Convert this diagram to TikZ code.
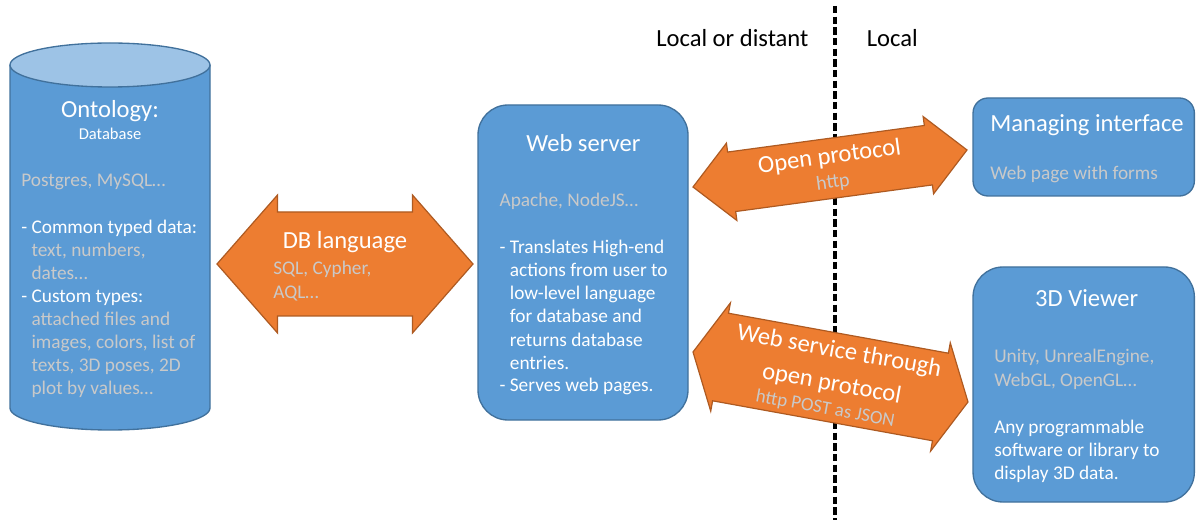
\documentclass[tikz,border=0pt]{standalone}
\usepackage{fontspec}
\setmainfont{Carlito}
\definecolor{boxblue}{HTML}{5B9BD5}
\definecolor{boxedge}{HTML}{41719C}
\definecolor{toplight}{HTML}{9DC3E6}
\definecolor{arrfill}{HTML}{ED7D31}
\definecolor{arredge}{HTML}{AE5A21}
\definecolor{softgray}{HTML}{C9C9C9}
\newcommand\blockarrow[4]{% L, h, H, S
  \path[arrowshape] ({-#1/2},0) -- ({-#1/2+#2},{-#3}) -- ({-#1/2+#2},{-#4}) -- ({#1/2-#2},{-#4})
    -- ({#1/2-#2},{-#3}) -- ({#1/2},0) -- ({#1/2-#2},{#3}) -- ({#1/2-#2},{#4})
    -- ({-#1/2+#2},{#4}) -- ({-#1/2+#2},{#3}) -- cycle;}
\begin{document}
\begin{tikzpicture}[x=0.75pt,y=-0.75pt,
  box/.style={draw=boxedge,fill=boxblue,line width=1pt},
  arrowshape/.style={draw=arredge,fill=arrfill,line width=0.9pt},
  ttl/.style={text=white,font=\fontsize{18.45pt}{22pt}\selectfont,inner sep=0pt},
  bw/.style={text=white,font=\fontsize{14.5pt}{17.25pt}\selectfont,inner sep=0pt,anchor=base west},
  bg/.style={text=softgray,font=\fontsize{14.5pt}{17.25pt}\selectfont,inner sep=0pt,anchor=base west},
  hdr/.style={text=black,font=\fontsize{18.45pt}{22pt}\selectfont,inner sep=0pt,anchor=base west},
  divider/.style={line width=2.4pt,dash pattern=on 5.5pt off 2.5pt}]
\useasboundingbox (0,0) rectangle (1196,520);

% divider
\coordinate (divtop) at (835,6);
\coordinate (divbot) at (835,520);
\draw[divider] (divtop) -- (divbot);
\node[hdr] (lod) at (656,46.7) {Local or distant};
\node[hdr] (loc) at (866.5,46.7) {Local};

% database cylinder
\path[fill=boxblue] (10,65) -- (10,408) arc[start angle=180,end angle=360,x radius=75pt,y radius=16.5pt] -- (210,65) -- cycle;
\draw[draw=boxedge,line width=1pt] (10,65) -- (10,408) arc[start angle=180,end angle=360,x radius=75pt,y radius=16.5pt] -- (210,65);
\draw[draw=boxedge,fill=toplight,line width=1pt] (110,65) ellipse[x radius=75pt,y radius=16.5pt];
\coordinate (db) at (110,250);
\node[ttl,anchor=base] (dbt) at (110,117.3) {Ontology:};
\node[text=white,font=\fontsize{12.4pt}{15pt}\selectfont,inner sep=0pt,anchor=base] (dbs) at (110,140) {Database};
\node[bg] (db1) at (21,186.7) {Postgres, MySQL…};
\node[bw] (db2) at (21,233.3) {- Common typed data:};
\node[bg] (db3) at (31.3,256.3) {text, numbers,};
\node[bg] (db4) at (31.3,279.3) {dates…};
\node[bw] (db5) at (21,302.3) {- Custom types:};
\node[bg] (db6) at (31.3,325.3) {attached files and};
\node[bg] (db7) at (31.3,348.3) {images, colors, list of};
\node[bg] (db8) at (31.3,371.3) {texts, 3D poses, 2D};
\node[bg] (db9) at (31.3,394.3) {plot by values…};

% web server
\node[box,rounded corners=22.5pt,minimum width=157.5pt,minimum height=236.25pt,inner sep=0pt] (ws) at (583,262.5) {};
\node[ttl,anchor=base] (wst) at (583.3,151.7) {Web server};
\node[bg] (ws1) at (499.3,206.7) {Apache, NodeJS…};
\node[bw] (ws2) at (499.3,254) {- Translates High-end};
\node[bw] (ws3) at (509.6,277) {actions from user to};
\node[bw] (ws4) at (509.6,300) {low-level language};
\node[bw] (ws5) at (509.6,323) {for database and};
\node[bw] (ws6) at (509.6,346) {returns database};
\node[bw] (ws7) at (509.6,369) {entries.};
\node[bw] (ws8) at (499.3,392) {- Serves web pages.};

% managing interface
\node[box,rounded corners=11.25pt,minimum width=166pt,minimum height=73.5pt,inner sep=0pt] (mi) at (1083.7,147) {};
\node[ttl,anchor=base west] (mit) at (990,132) {Managing interface};
\node[bg] (mi1) at (990,180) {Web page with forms};

% 3D viewer
\node[box,rounded corners=22.5pt,minimum width=166pt,minimum height=176.25pt,inner sep=0pt] (vw) at (1083.7,384.5) {};
\node[ttl,anchor=base] (vwt) at (1086.7,307) {3D Viewer};
\node[bg] (vw1) at (994,363) {Unity, UnrealEngine,};
\node[bg] (vw2) at (994,386) {WebGL, OpenGL…};
\node[bw] (vw3) at (994,433) {Any programmable};
\node[bw] (vw4) at (994,456) {software or library to};
\node[bw] (vw5) at (994,479) {display 3D data.};

% DB language arrow
\begin{scope}[shift={(345,264)},transform shape]
  \blockarrow{256}{60.5}{69}{52}
  \node[ttl,anchor=base] (dbl) at (0,-15.7) {DB language};
  \node[bg] (dbl1) at (-72,11) {SQL, Cypher,};
  \node[bg] (dbl2) at (-72,34.3) {AQL…};
\end{scope}

% Open protocol arrow
\begin{scope}[shift={(830,168.5)},rotate=7.7,transform shape]
  \blockarrow{276.5}{39}{39}{30}
  \node[ttl,anchor=base] (op) at (1,-4.5) {Open protocol};
  \node[text=softgray,font=\fontsize{15pt}{18pt}\selectfont,inner sep=0pt,anchor=base] (op1) at (1,19.7) {http};
\end{scope}

% Web service arrow
\begin{scope}[shift={(830.5,377)},rotate=-10.3,transform shape]
  \blockarrow{279.5}{28}{55}{44.5}
  \node[ttl,anchor=base] (wsv) at (4,-20.2) {Web service through};
  \node[ttl,anchor=base] (wsv1) at (2.5,13.5) {open protocol};
  \node[text=softgray,font=\fontsize{14.2pt}{17pt}\selectfont,inner sep=0pt,anchor=base] (wsv2) at (0.5,37.6) {http POST as JSON};
\end{scope}
\end{tikzpicture}
\end{document}
